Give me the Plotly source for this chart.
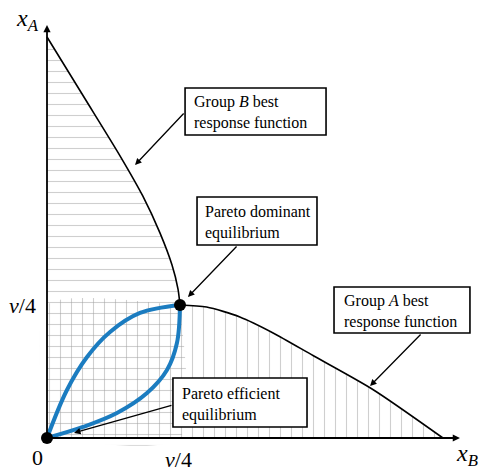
import plotly.graph_objects as go

# best response curves, in units of v/4
b_x = [0.0, 0.28, 0.55, 0.72, 0.85, 0.94, 0.985, 1.0]
b_y = [3.015, 2.56, 2.12, 1.82, 1.54, 1.30, 1.12, 1.0]
a_x = [1.0, 1.2, 1.45, 1.7, 2.0, 2.45, 2.977]
a_y = [1.0, 0.985, 0.91, 0.79, 0.62, 0.365, 0.0]

# blue lens between the two equilibria
up_x = [0.0, 0.150, 0.301, 0.474, 0.699, 1.0]
up_y = [0.0, 0.361, 0.609, 0.797, 0.940, 1.0]
lo_x = [0.0, 0.271, 0.526, 0.752, 0.902, 0.977, 1.0]
lo_y = [0.0, 0.083, 0.188, 0.338, 0.511, 0.714, 1.0]

eq_x = [0.0, 1.0]
eq_y = [0.0, 1.0]

serif = "Liberation Serif, Times New Roman, serif"
hatch = "#a0a0a0"

fig = go.Figure()

# horizontal hatching under group B curve
fig.add_trace(go.Scatter(
    x=[0, 1] + b_x[::-1], y=[0, 0] + b_y[::-1],
    fill='toself', mode='lines', line=dict(width=0, shape='spline', smoothing=0.7),
    fillcolor='rgba(0,0,0,0)',
    fillpattern=dict(shape='-', size=11, solidity=0.1, fgcolor=hatch, bgcolor='rgba(0,0,0,0)'),
    hoverinfo='skip'))
# vertical hatching under group A curve
fig.add_trace(go.Scatter(
    x=[0, 0] + a_x, y=[0, 1] + a_y,
    fill='toself', mode='lines', line=dict(width=0, shape='spline', smoothing=0.7),
    fillcolor='rgba(0,0,0,0)',
    fillpattern=dict(shape='|', size=11, solidity=0.1, fgcolor=hatch, bgcolor='rgba(0,0,0,0)'),
    hoverinfo='skip'))

fig.add_trace(go.Scatter(x=b_x, y=b_y, mode='lines',
                         line=dict(color='black', width=1.6, shape='spline', smoothing=0.7)))
fig.add_trace(go.Scatter(x=a_x, y=a_y, mode='lines',
                         line=dict(color='black', width=1.6, shape='spline', smoothing=0.7)))
fig.add_trace(go.Scatter(x=up_x, y=up_y, mode='lines', line=dict(color='#1b7cc0', width=4, shape='spline')))
fig.add_trace(go.Scatter(x=lo_x, y=lo_y, mode='lines', line=dict(color='#1b7cc0', width=4, shape='spline')))
fig.add_trace(go.Scatter(x=eq_x, y=eq_y, mode='markers', marker=dict(color='black', size=12)))

ann = []


def arrow(x, y, ax, ay, w=1.3, head=2, size=1.0):
    ann.append(dict(x=x, y=y, ax=ax, ay=ay, xref='x', yref='y', axref='x', ayref='y',
                    text='', showarrow=True, arrowhead=head, arrowsize=size,
                    arrowwidth=w, arrowcolor='black'))


# axes
arrow(3.105, 0, 0, 0, w=1.8, size=0.8)
arrow(0, 3.105, 0, 0, w=1.8, size=0.8)

# callout arrows
arrow(0.662, 2.053, 1.038, 2.451)
arrow(1.060, 1.060, 1.436, 1.451)
arrow(2.429, 0.391, 2.820, 0.789)
arrow(0.203, 0.038, 0.947, 0.248)


def label(x, y, text, size=16, xanchor='left', yanchor='middle'):
    ann.append(dict(x=x, y=y, xref='x', yref='y', text=text, showarrow=False,
                    xanchor=xanchor, yanchor=yanchor, align='left',
                    font=dict(family=serif, size=size, color='black')))


label(1.090, 2.444, "Group <i>B</i> best<br>response function")
label(1.173, 1.624, "Pareto dominant<br>equilibrium")
label(2.218, 0.951, "Group <i>A</i> best<br>response function")
label(1.0, 0.252, "Pareto efficient<br>equilibrium")

label(-0.068, -0.150, "0", size=22, xanchor='center')
label(0.985, -0.165, "<i>v</i>/4", size=22, xanchor='center')
label(-0.185, 1.0, "<i>v</i>/4", size=22, xanchor='center')
label(-0.25, 3.14, "<i>x</i><sub><i>A</i></sub>", size=24)
label(3.06, -0.13, "<i>x</i><sub><i>B</i></sub>", size=24)

# boxes
boxes = [(1.038, 2.278, 2.098, 2.632), (1.128, 1.451, 2.030, 1.812),
         (2.158, 0.789, 3.180, 1.135), (0.947, 0.083, 1.955, 0.451)]
shapes = [dict(type='rect', xref='x', yref='y', x0=x0, y0=y0, x1=x1, y1=y1,
               line=dict(color='black', width=1.6), fillcolor='white', layer='above')
          for x0, y0, x1, y1 in boxes]

fig.update_layout(
    width=480, height=472,
    margin=dict(l=0, r=0, t=0, b=0),
    paper_bgcolor='white', plot_bgcolor='white',
    showlegend=False,
    xaxis=dict(range=[-0.3534, 3.2556], visible=False, fixedrange=True),
    yaxis=dict(range=[-0.2556, 3.2932], visible=False, fixedrange=True),
    annotations=ann,
    shapes=shapes,
)

fig.write_html("out.html", config={'displayModeBar': False},
               post_script="document.body.style.margin='0';")
